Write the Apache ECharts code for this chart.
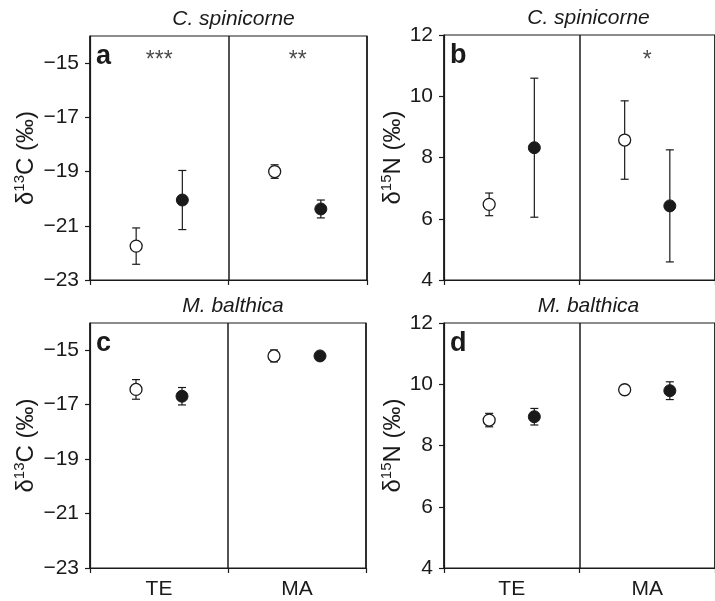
<!DOCTYPE html>
<html>
<head>
<meta charset="utf-8">
<script src="https://cdn.jsdelivr.net/npm/echarts@6/dist/echarts.min.js"></script>
<style>
html,body{margin:0;padding:0;background:#fff;}
#chart{width:715px;height:601px;}
</style>
</head>
<body>
<div id="chart"></div>
<script>
// ---- data ----
const categories = ['TE', 'MA'];
const yTicksC = [-23, -21, -19, -17, -15];
const yTicksN = [4, 6, 8, 10, 12];
const panelTitles = ['C. spinicorne', 'C. spinicorne', 'M. balthica', 'M. balthica'];
const panelLetters = ['a', 'b', 'c', 'd'];

// C. spinicorne δ13C
const aOpenMean = [-21.75, -19.0];
const aOpenErr = [0.67, 0.25];
const aFilledMean = [-20.05, -20.38];
const aFilledErr = [1.09, 0.33];
const aStars = ['***', '**'];
// C. spinicorne δ15N
const bOpenMean = [6.47, 8.57];
const bOpenErr = [0.37, 1.28];
const bFilledMean = [8.32, 6.42];
const bFilledErr = [2.27, 1.83];
const bStars = ['', '*'];
// M. balthica δ13C
const cOpenMean = [-16.44, -15.21];
const cOpenErr = [0.36, 0.22];
const cFilledMean = [-16.69, -15.21];
const cFilledErr = [0.32, 0.1];
const cStars = ['', ''];
// M. balthica δ15N
const dOpenMean = [8.83, 9.82];
const dOpenErr = [0.22, 0.1];
const dFilledMean = [8.94, 9.79];
const dFilledErr = [0.27, 0.29];
const dStars = ['', ''];

// ---- layout ----
const FONT = '"Liberation Sans", Arial, Helvetica, sans-serif';
const INK = '#1a1a1a';
const grids = [
  {left: 90, top: 36, width: 277, height: 244},
  {left: 444, top: 35, width: 279, height: 245},
  {left: 90, top: 323, width: 276, height: 245},
  {left: 444, top: 323, width: 279, height: 245}
];
const panels = [
  {open: aOpenMean, openErr: aOpenErr, filled: aFilledMean, filledErr: aFilledErr, stars: aStars, iso: 'C'},
  {open: bOpenMean, openErr: bOpenErr, filled: bFilledMean, filledErr: bFilledErr, stars: bStars, iso: 'N'},
  {open: cOpenMean, openErr: cOpenErr, filled: cFilledMean, filledErr: cFilledErr, stars: cStars, iso: 'C'},
  {open: dOpenMean, openErr: dOpenErr, filled: dFilledMean, filledErr: dFilledErr, stars: dStars, iso: 'N'}
];

const fmtNum = v => v < 0 ? '\u2212' + Math.abs(v) : String(v);
// group position on the 0..6 x-scale: each category occupies 3 units
const groupX = (ci, k) => ci * 3 + k; // k=1 open, k=2 filled

const option = {
  animation: false,
  backgroundColor: '#fff',
  grid: grids.map(g => Object.assign({show: true, borderColor: INK, borderWidth: 1.2, backgroundColor: 'transparent'}, g)),
  title: grids.map((g, i) => ({
    text: panelTitles[i],
    left: g.left + g.width / 2,
    top: g.top - 32,
    textAlign: 'center',
    textStyle: {fontFamily: FONT, fontStyle: 'italic', fontWeight: 'normal', fontSize: 21, color: INK}
  })),
  xAxis: grids.map((g, i) => ({
    gridIndex: i, type: 'value', min: 0, max: 6, interval: 3,
    axisLine: {show: true, lineStyle: {color: INK, width: 1.2}},
    axisTick: {show: true, length: 5, lineStyle: {color: INK, width: 1.2}},
    axisLabel: {
      show: i >= 2, customValues: [1.5, 4.5], margin: 11,
      formatter: v => categories[Math.floor(v / 3)],
      fontFamily: FONT, fontSize: 21, color: INK
    },
    splitLine: {show: true, lineStyle: {color: INK, width: 1.5}}
  })),
  yAxis: grids.map((g, i) => {
    const isC = panels[i].iso === 'C';
    const ticks = isC ? yTicksC : yTicksN;
    return {
      gridIndex: i, type: 'value',
      min: isC ? -23 : 4, max: isC ? -14 : 12, interval: 2,
      axisLine: {show: true, lineStyle: {color: INK, width: 1.2}},
      axisTick: {show: true, length: 5, customValues: ticks, lineStyle: {color: INK, width: 1.2}},
      axisLabel: {customValues: ticks, formatter: fmtNum, fontFamily: FONT, fontSize: 21, color: INK, margin: 11},
      splitLine: {show: false},
      name: isC ? '{d|δ}{s|13}{d|C (‰)}' : '{d|δ}{s|15}{d|N (‰)}',
      nameLocation: 'middle', nameRotate: 90,
      nameGap: isC ? 50 : 33,
      nameTextStyle: {
        rich: {
          d: {fontFamily: FONT, fontSize: 24, lineHeight: 28, color: INK},
          s: {fontFamily: FONT, fontSize: 15, lineHeight: 15, verticalAlign: 'top', color: INK}
        }
      }
    };
  }),
  graphic: grids.map((g, i) => ({
    type: 'text', left: g.left + 6, top: g.top + 7,
    style: {text: panelLetters[i], font: 'bold 27px ' + FONT, fill: INK}
  })),
  series: []
};

panels.forEach((p, i) => {
  const errData = [];
  categories.forEach((c, ci) => {
    errData.push([groupX(ci, 1), p.open[ci] - p.openErr[ci], p.open[ci] + p.openErr[ci]]);
    errData.push([groupX(ci, 2), p.filled[ci] - p.filledErr[ci], p.filled[ci] + p.filledErr[ci]]);
  });
  option.series.push({
    type: 'custom', xAxisIndex: i, yAxisIndex: i, z: 2,
    data: errData,
    encode: {x: 0, y: [1, 2]},
    renderItem: (params, api) => {
      const x = api.value(0);
      const lo = api.coord([x, api.value(1)]);
      const hi = api.coord([x, api.value(2)]);
      const w = 4;
      const st = {stroke: INK, lineWidth: 1.2};
      return {type: 'group', children: [
        {type: 'line', shape: {x1: lo[0], y1: lo[1], x2: hi[0], y2: hi[1]}, style: st},
        {type: 'line', shape: {x1: lo[0] - w, y1: lo[1], x2: lo[0] + w, y2: lo[1]}, style: st},
        {type: 'line', shape: {x1: hi[0] - w, y1: hi[1], x2: hi[0] + w, y2: hi[1]}, style: st}
      ]};
    }
  });
  option.series.push({
    type: 'scatter', xAxisIndex: i, yAxisIndex: i, z: 3,
    symbol: 'circle', symbolSize: 12,
    itemStyle: {color: '#fff', borderColor: INK, borderWidth: 1.3, opacity: 1},
    data: categories.map((c, ci) => [groupX(ci, 1), p.open[ci]])
  });
  option.series.push({
    type: 'scatter', xAxisIndex: i, yAxisIndex: i, z: 3,
    symbol: 'circle', symbolSize: 12,
    itemStyle: {color: INK, borderColor: INK, borderWidth: 1, opacity: 1},
    data: categories.map((c, ci) => [groupX(ci, 2), p.filled[ci]])
  });
  const isC = p.iso === 'C';
  option.series.push({
    type: 'scatter', xAxisIndex: i, yAxisIndex: i, z: 4,
    symbolSize: 0, silent: true,
    label: {show: true, position: 'inside', formatter: d => p.stars[d.dataIndex],
      fontFamily: FONT, fontSize: 23, fontWeight: 'normal', color: INK, offset: [0, 6]},
    data: categories.map((c, ci) => [ci * 3 + 1.5, isC ? -14.7 : 11.36])
  });
});

const chart = echarts.init(document.getElementById('chart'), null, {renderer: 'canvas'});
chart.setOption(option);
</script>
</body>
</html>
